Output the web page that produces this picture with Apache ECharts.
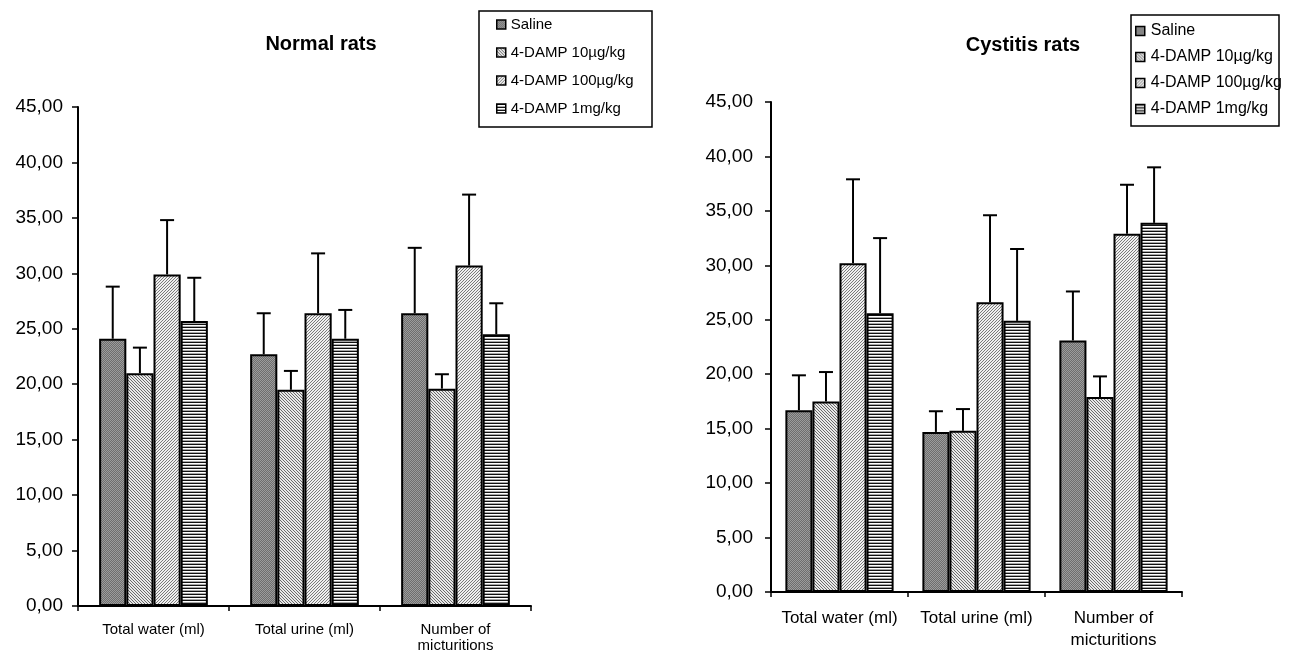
<!DOCTYPE html>
<html>
<head>
<meta charset="utf-8">
<script src="https://cdn.jsdelivr.net/npm/echarts@6/dist/echarts.min.js"></script>
<style>
html,body{margin:0;padding:0;background:#fff;}
#main{width:1295px;height:655px;}
</style>
</head>
<body>
<div id="main"></div>
<script>
// ---------- data ----------
var categories = ['Total water (ml)', 'Total urine (ml)', 'Number of\nmicturitions'];
var seriesNames = ['Saline', '4-DAMP 10µg/kg', '4-DAMP 100µg/kg', '4-DAMP 1mg/kg'];
var yTicks = [0, 5, 10, 15, 20, 25, 30, 35, 40, 45];

// Normal rats: means and upper SD
var normalSaline = [24.1, 22.7, 26.4];
var normalSalineErr = [4.7, 3.7, 5.9];
var normal10 = [21.0, 19.5, 19.6];
var normal10Err = [2.3, 1.7, 1.3];
var normal100 = [29.9, 26.4, 30.7];
var normal100Err = [4.9, 5.4, 6.4];
var normal1mg = [25.7, 24.1, 24.5];
var normal1mgErr = [3.9, 2.6, 2.8];

// Cystitis rats
var cystSaline = [16.7, 14.7, 23.1];
var cystSalineErr = [3.2, 1.9, 4.5];
var cyst10 = [17.5, 14.8, 17.9];
var cyst10Err = [2.7, 2.0, 1.9];
var cyst100 = [30.2, 26.6, 32.9];
var cyst100Err = [7.7, 8.0, 4.5];
var cyst1mg = [25.6, 24.9, 33.9];
var cyst1mgErr = [6.9, 6.6, 5.1];

// ---------- patterns ----------
function makePattern(w, h, draw) {
  var c = document.createElement('canvas');
  c.width = w; c.height = h;
  var ctx = c.getContext('2d');
  ctx.fillStyle = '#fff';
  ctx.fillRect(0, 0, w, h);
  draw(ctx);
  return { image: c, repeat: 'repeat' };
}
var patSaline = makePattern(2, 2, function (ctx) {
  ctx.fillStyle = '#6e6e6e'; ctx.fillRect(0, 0, 2, 2);
  ctx.fillStyle = '#9c9c9c'; ctx.fillRect(0, 0, 1, 1); ctx.fillRect(1, 1, 1, 1);
});
var patBack = makePattern(3, 3, function (ctx) {
  ctx.fillStyle = '#e8e8e8'; ctx.fillRect(0, 0, 3, 3);
  for (var i = 0; i < 3; i++) {
    ctx.fillStyle = '#6a6a6a'; ctx.fillRect(i, i, 1, 1);
  }
});
var patFwd = makePattern(3, 3, function (ctx) {
  ctx.fillStyle = '#f0f0f0'; ctx.fillRect(0, 0, 3, 3);
  for (var i = 0; i < 3; i++) {
    ctx.fillStyle = '#7a7a7a'; ctx.fillRect(2 - i, i, 1, 1);
  }
});
var patHoriz = makePattern(4, 3, function (ctx) {
  ctx.fillStyle = '#111'; ctx.fillRect(0, 0, 4, 1);
  ctx.fillStyle = '#a8a8a8'; ctx.fillRect(0, 2, 4, 1);
});
var patterns = [patSaline, patBack, patFwd, patHoriz];

var font = 'Liberation Sans, Arial, sans-serif';

function yLabel(v) { return v.toFixed(2).replace('.', ','); }

var normalMeans = [normalSaline, normal10, normal100, normal1mg];
var normalErrs = [normalSalineErr, normal10Err, normal100Err, normal1mgErr];
var cystMeans = [cystSaline, cyst10, cyst100, cyst1mg];
var cystErrs = [cystSalineErr, cyst10Err, cyst100Err, cyst1mgErr];

var series = [];
function addChart(idx, means, errs, gapPct) {
  for (var s = 0; s < 4; s++) {
    series.push({
      type: 'bar', name: seriesNames[s],
      xAxisIndex: idx, yAxisIndex: idx,
      data: means[s],
      barGap: '0%', barCategoryGap: gapPct + '%',
      itemStyle: { color: patterns[s], borderColor: '#000', borderWidth: 2 },
      emphasis: { disabled: true },
      z: 2
    });
  }
  var ebData = [];
  for (var s2 = 0; s2 < 4; s2++) {
    for (var c = 0; c < categories.length; c++) {
      ebData.push([c, means[s2][c], errs[s2][c], s2]);
    }
  }
  series.push({
    type: 'custom', xAxisIndex: idx, yAxisIndex: idx,
    data: ebData, encode: { x: 0, y: 1 }, z: 3, silent: true,
    renderItem: function (params, api) {
      var cat = api.value(0), m = api.value(1), e = api.value(2), si = api.value(3);
      var base = api.coord([cat, m]);
      var top = api.coord([cat, m + e]);
      var catW = api.size([1, 0])[0];
      var barW = catW * (1 - gapPct / 100) / 4;
      var x = base[0] + (si - 1.5) * barW;
      var style = { stroke: '#000', lineWidth: 2 };
      return {
        type: 'group',
        children: [
          { type: 'line', shape: { x1: x, y1: base[1], x2: x, y2: top[1] }, style: style },
          { type: 'line', shape: { x1: x - 7, y1: top[1], x2: x + 7, y2: top[1] }, style: style }
        ]
      };
    }
  });
}
addChart(0, normalMeans, normalErrs, 28);
addChart(1, cystMeans, cystErrs, 21);

function xAxis(idx, fs, lh, margin) {
  return {
    type: 'category', gridIndex: idx, data: categories,
    axisLine: { lineStyle: { color: '#000', width: 2 } },
    axisTick: { show: true, length: 5, lineStyle: { color: '#000', width: 1.5 } },
    axisLabel: { color: '#000', fontFamily: font, fontSize: fs, lineHeight: lh, margin: margin, interval: 0 }
  };
}
function yAxis(idx, margin) {
  return {
    type: 'value', gridIndex: idx, min: 0, max: 45, interval: 5,
    axisLine: { show: true, lineStyle: { color: '#000', width: 2 } },
    axisTick: { show: true, length: 6, lineStyle: { color: '#000', width: 1.5 } },
    splitLine: { show: false },
    axisLabel: { color: '#000', fontFamily: font, fontSize: 19, margin: margin, formatter: yLabel }
  };
}

var legendCommon = {
  orient: 'vertical', data: seriesNames, padding: 0,
  itemWidth: 9, itemHeight: 9, icon: 'rect',
  itemStyle: { borderWidth: 1.5, borderColor: '#000' },
  selectedMode: false
};

var option = {
  animation: false,
  backgroundColor: '#fff',
  grid: [
    { left: 78, right: 1295 - 531, top: 107, bottom: 655 - 606 },
    { left: 771, right: 1295 - 1182, top: 102, bottom: 655 - 592 }
  ],
  xAxis: [xAxis(0, 15, 16, 16), xAxis(1, 17, 22, 15)],
  yAxis: [yAxis(0, 15), yAxis(1, 18)],
  legend: [
    Object.assign({}, legendCommon, { left: 496, top: 17, itemGap: 13,
      textStyle: { color: '#000', fontFamily: font, fontSize: 15 } }),
    Object.assign({}, legendCommon, { left: 1135, top: 23, itemGap: 10,
      textStyle: { color: '#000', fontFamily: font, fontSize: 16, padding: [0, 0, 0, 1] } })
  ],
  graphic: [
    { type: 'rect', shape: { x: 479, y: 11, width: 173, height: 116 }, style: { fill: 'none', stroke: '#000', lineWidth: 1.5 }, z: 0 },
    { type: 'rect', shape: { x: 1131, y: 15, width: 148, height: 111 }, style: { fill: 'none', stroke: '#000', lineWidth: 1.5 }, z: 0 },
    { type: 'text', x: 321, y: 44, style: { text: 'Normal rats', font: 'bold 20px ' + font, fill: '#000', align: 'center', verticalAlign: 'middle' } },
    { type: 'text', x: 1023, y: 45, style: { text: 'Cystitis rats', font: 'bold 20px ' + font, fill: '#000', align: 'center', verticalAlign: 'middle' } }
  ],
  series: series
};

var chart = echarts.init(document.getElementById('main'));
chart.setOption(option);
</script>
</body>
</html>
